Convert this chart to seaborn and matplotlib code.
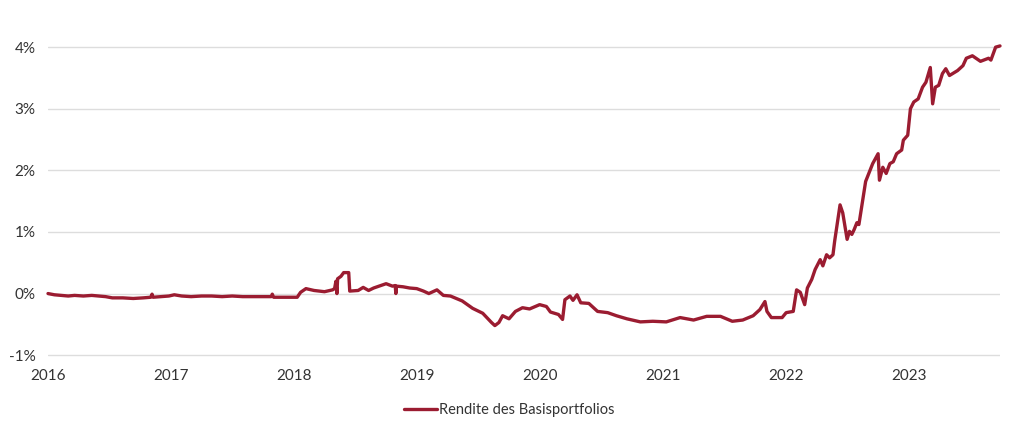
import pandas as pd
import matplotlib
matplotlib.use("Agg")
import matplotlib.pyplot as plt
import matplotlib.dates as mdates
from matplotlib.ticker import FuncFormatter
import seaborn as sns

# Daten: Rendite des Basisportfolios (in %)
dates = [
    "2016-01-01", "2016-01-20", "2016-02-10", "2016-03-01", "2016-03-20", "2016-04-15",
    "2016-05-10", "2016-06-01", "2016-06-20", "2016-07-10", "2016-08-10", "2016-09-10",
    "2016-10-10", "2016-11-01", "2016-11-05", "2016-11-08", "2016-12-01", "2016-12-25",
    "2017-01-10", "2017-02-01", "2017-03-01", "2017-04-01", "2017-05-01", "2017-06-01",
    "2017-07-01", "2017-08-01", "2017-09-01", "2017-10-01", "2017-10-25", "2017-10-28",
    "2017-11-01", "2017-12-01", "2018-01-01", "2018-01-10", "2018-01-20", "2018-02-05",
    "2018-03-01", "2018-04-01", "2018-04-25", "2018-05-01", "2018-05-05", "2018-05-08",
    "2018-05-10", "2018-05-20", "2018-05-28", "2018-06-12", "2018-06-15", "2018-07-10",
    "2018-07-25", "2018-08-10", "2018-08-25", "2018-09-10", "2018-10-01", "2018-10-20",
    "2018-10-28", "2018-10-30", "2018-11-01", "2018-11-20", "2018-12-10", "2018-12-31",
    "2019-01-20", "2019-02-05", "2019-03-01", "2019-03-20", "2019-04-10", "2019-05-15",
    "2019-06-15", "2019-07-15", "2019-08-10", "2019-08-20", "2019-09-01", "2019-09-12",
    "2019-10-01", "2019-10-20", "2019-11-10", "2019-12-01", "2019-12-31", "2020-01-20",
    "2020-02-01", "2020-02-25", "2020-03-08", "2020-03-15", "2020-03-30", "2020-04-08",
    "2020-04-20", "2020-05-01", "2020-05-25", "2020-06-20", "2020-07-20", "2020-08-15",
    "2020-09-15", "2020-10-25", "2020-12-01", "2021-01-10", "2021-02-20", "2021-04-01",
    "2021-05-10", "2021-06-20", "2021-07-25", "2021-08-25", "2021-09-25", "2021-10-15",
    "2021-10-30", "2021-11-05", "2021-11-18", "2021-12-20", "2022-01-01", "2022-01-22",
    "2022-02-01", "2022-02-12", "2022-02-25", "2022-03-05", "2022-03-18", "2022-03-28",
    "2022-04-12", "2022-04-20", "2022-05-01", "2022-05-10", "2022-05-20", "2022-05-25",
    "2022-06-10", "2022-06-18", "2022-07-01", "2022-07-08", "2022-07-15", "2022-07-22",
    "2022-07-30", "2022-08-05", "2022-08-15", "2022-08-25", "2022-09-15", "2022-10-01",
    "2022-10-05", "2022-10-15", "2022-10-25", "2022-11-05", "2022-11-15", "2022-11-25",
    "2022-12-10", "2022-12-15", "2022-12-28", "2023-01-05", "2023-01-15", "2023-01-28",
    "2023-02-10", "2023-02-20", "2023-03-05", "2023-03-12", "2023-03-20", "2023-03-30",
    "2023-04-10", "2023-04-20", "2023-05-01", "2023-05-25", "2023-06-10", "2023-06-20",
    "2023-07-08", "2023-08-01", "2023-08-25", "2023-09-01", "2023-09-15", "2023-09-28",
]
rendite = [
    0.00, -0.02, -0.03, -0.04, -0.03, -0.04,
    -0.03, -0.04, -0.05, -0.07, -0.07, -0.08,
    -0.07, -0.06, -0.01, -0.06, -0.05, -0.04,
    -0.02, -0.04, -0.05, -0.04, -0.04, -0.05,
    -0.04, -0.05, -0.05, -0.05, -0.05, -0.01,
    -0.06, -0.06, -0.06, -0.06, 0.02, 0.08,
    0.05, 0.03, 0.06, 0.08, 0.20, 0.00,
    0.24, 0.28, 0.34, 0.34, 0.04, 0.05,
    0.10, 0.05, 0.09, 0.12, 0.16, 0.12,
    0.13, 0.00, 0.12, 0.11, 0.09, 0.08,
    0.04, 0.00, 0.06, -0.03, -0.04, -0.12,
    -0.24, -0.32, -0.47, -0.52, -0.47, -0.36,
    -0.41, -0.29, -0.23, -0.25, -0.18, -0.21,
    -0.30, -0.34, -0.42, -0.10, -0.04, -0.11,
    -0.02, -0.15, -0.16, -0.29, -0.31, -0.36,
    -0.41, -0.46, -0.45, -0.46, -0.39, -0.43,
    -0.37, -0.37, -0.45, -0.43, -0.36, -0.26,
    -0.13, -0.29, -0.39, -0.39, -0.31, -0.29,
    0.06, 0.02, -0.18, 0.09, 0.23, 0.39,
    0.55, 0.45, 0.63, 0.58, 0.63, 0.85,
    1.44, 1.31, 0.88, 1.01, 0.96, 1.04,
    1.15, 1.12, 1.47, 1.82, 2.11, 2.27,
    1.84, 2.05, 1.95, 2.11, 2.14, 2.27,
    2.33, 2.49, 2.57, 3.00, 3.11, 3.16,
    3.35, 3.43, 3.67, 3.08, 3.35, 3.38,
    3.57, 3.65, 3.54, 3.62, 3.70, 3.82,
    3.86, 3.77, 3.82, 3.79, 4.00, 4.02,
]
series_name = "Rendite des Basisportfolios"
y_ticks = [-1, 0, 1, 2, 3, 4]

df = pd.DataFrame({"Datum": pd.to_datetime(dates), "Rendite": rendite})

sns.set_theme(style="white")
plt.rcParams["font.family"] = ["Lato", "DejaVu Sans"]

fig = plt.figure(figsize=(10.15, 4.26), dpi=100)
# leicht unter -1% anfangen, damit die unterste Gitterlinie ganz sichtbar ist
ax = fig.add_axes([48 / 1015, 1 - 357 / 426, (1000 - 48) / 1015, (357 - 41) / 426])

sns.lineplot(data=df, x="Datum", y="Rendite", color="#9b1c31", linewidth=2.4,
             label=series_name, ax=ax, clip_on=False, zorder=3)

ax.set_xlim(pd.Timestamp("2016-01-01"), pd.Timestamp("2023-09-28"))
ax.set_ylim(-1.03, 4.1)
ax.set_yticks(y_ticks)
ax.yaxis.set_major_formatter(FuncFormatter(lambda v, p: f"{v:.0f}%"))
ax.xaxis.set_major_locator(mdates.YearLocator())
ax.xaxis.set_major_formatter(mdates.DateFormatter("%Y"))
ax.grid(axis="y", color="#dddddd", linewidth=1)
ax.set_axisbelow(True)
for s in ax.spines.values():
    s.set_visible(False)
ax.tick_params(axis="both", length=0, labelsize=11, colors="#333333")
ax.tick_params(axis="y", pad=9)
ax.tick_params(axis="x", pad=9)
ax.set_xlabel("")
ax.set_ylabel("")

leg = ax.legend(loc="upper center", bbox_to_anchor=(0.485, -0.105), frameon=False,
                fontsize=10.5, handlelength=2.2, handletextpad=0.2)
for t in leg.get_texts():
    t.set_color("#333333")

fig.savefig("out.png", dpi=100)
